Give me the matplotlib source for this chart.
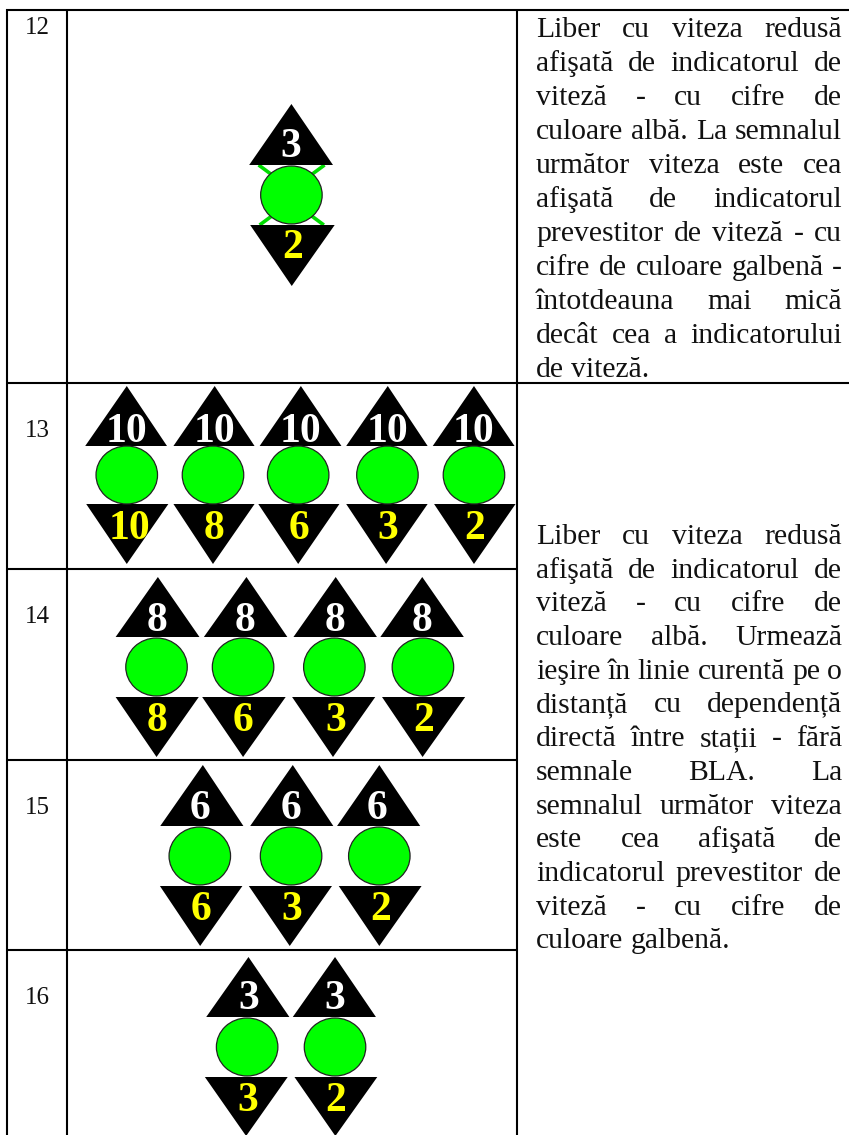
import matplotlib
matplotlib.use("Agg")
import matplotlib.pyplot as plt
from matplotlib.patches import Polygon, Ellipse
from matplotlib.font_manager import FontProperties

W, H = 849, 1135
plt.rcParams['font.family'] = ['Liberation Serif', 'DejaVu Serif']

# ---- content ----
row_labels = ["12", "13", "14", "15", "16"]
top_speeds = [["3"], ["10", "10", "10", "10", "10"], ["8", "8", "8", "8"], ["6", "6", "6"], ["3", "3"]]
bottom_speeds = [["2"], ["10", "8", "6", "3", "2"], ["8", "6", "3", "2"], ["6", "3", "2"], ["3", "2"]]

text_first = ["Liber cu viteza redusă", "afişată de indicatorul de", "viteză - cu cifre de",
              "culoare albă. La semnalul", "următor viteza este cea", "afişată de indicatorul",
              "prevestitor de viteză - cu", "cifre de culoare galbenă -", "întotdeauna mai mică",
              "decât cea a indicatorului", "de viteză."]
text_second = ["Liber cu viteza redusă", "afişată de indicatorul de", "viteză - cu cifre de",
               "culoare albă. Urmează", "ieşire în linie curentă pe o", "distanță cu dependență",
               "directă între stații - fără", "semnale BLA. La", "semnalul următor viteza",
               "este cea afişată de", "indicatorul prevestitor de", "viteză - cu cifre de",
               "culoare galbenă."]

# ---- layout (pixels) ----
S = 2.958
label_y = [26, 429, 615, 806, 996]
top_apex_y = [104, 386, 577, 765, 957]
top_base_y = [165, 446, 637, 826, 1017]
circle_y = [195, 475, 667, 856, 1047]
bot_base_y = [225, 504, 697, 886, 1077]
bot_apex_y = [286, 564, 757, 946, 1136]
top_digit_y = [143, 428, 617, 805, 995]
bot_digit_y = [244, 525, 717, 906, 1097]
top_apex_x = [[862], [375, 635, 890, 1147, 1402], [467, 729, 993, 1249], [600, 866, 1122], [735, 991]]
top_base_x = [[(737, 985)], [(252, 494), (513, 753), (768, 1010), (1024, 1265), (1280, 1522)],
              [(342, 590), (603, 850), (868, 1115), (1125, 1372)],
              [(474, 720), (740, 986), (997, 1243)], [(610, 856), (866, 1112)]]
circle_x = [[862], [375, 630, 882, 1146, 1402], [463, 719, 989, 1251], [591, 861, 1122], [731, 991]]
bot_base_x = [[(740, 990)], [(255, 498), (513, 753), (764, 1004), (1024, 1265), (1284, 1525)],
              [(342, 588), (598, 845), (864, 1110), (1130, 1376)],
              [(473, 717), (736, 982), (1002, 1247)], [(606, 851), (871, 1116)]]
bot_apex_x = [[863], [375, 630, 882, 1142, 1402], [463, 719, 985, 1250], [592, 857, 1122], [728, 992]]
top_digit_x = [[860], [375, 635, 890, 1147, 1402], [465, 725, 992, 1248], [593, 860, 1115], [735, 990]]
bot_digit_x = [[865], [383, 632, 884, 1147, 1405], [465, 720, 992, 1252], [594, 863, 1125], [733, 993]]
green_arms = [((765, 165), (805, 175)), ((960, 165), (920, 175)),
              ((768, 225), (808, 215)), ((958, 225), (918, 215))]

DIGIT_PT = 30
LABEL_PT = 18
BODY_PT = 21.3
digit_drop = 0.338 * DIGIT_PT * 100 / 72
label_drop = 0.338 * LABEL_PT * 100 / 72

fig = plt.figure(figsize=(W / 100, H / 100), dpi=100, facecolor='white')
ax = fig.add_axes([0, 0, 1, 1])
ax.set_xlim(0, W)
ax.set_ylim(H, 0)
ax.axis('off')

# grid
LW = 1.5
for x in (7, 67.5, 517):
    ax.plot([x, x], [9, H], color='black', lw=LW, solid_capstyle='butt')
for y, x1 in ((10, W), (383, W), (569, 517), (760, 517), (950, 517)):
    ax.plot([6, x1], [y, y], color='black', lw=LW, solid_capstyle='butt')

# row numbers
for lab, y in zip(row_labels, label_y):
    ax.text(37, y + label_drop, lab, fontsize=LABEL_PT, ha='center', va='baseline', color='#111111')

# row 12's green arms
for (x0, y0), (x1, y1) in green_arms:
    ax.plot([x0 / S, x1 / S], [y0, y1], color='#00dd00', lw=2.6, solid_capstyle='butt', zorder=2)

# signals
for r in range(len(row_labels)):
    for i in range(len(top_speeds[r])):
        bx0, bx1 = top_base_x[r][i]
        ax.add_patch(Polygon([(bx0 / S, top_base_y[r]), (bx1 / S, top_base_y[r]),
                              (top_apex_x[r][i] / S, top_apex_y[r])],
                             closed=True, fc='black', ec='none', zorder=3))
        bx0, bx1 = bot_base_x[r][i]
        ax.add_patch(Polygon([(bx0 / S, bot_base_y[r]), (bx1 / S, bot_base_y[r]),
                              (bot_apex_x[r][i] / S, bot_apex_y[r])],
                             closed=True, fc='black', ec='none', zorder=3))
        ax.add_patch(Ellipse((circle_x[r][i] / S, circle_y[r]), 61.5, 58, fc='#00ff00',
                             ec='#222222', lw=0.9, zorder=4))
        ax.text(top_digit_x[r][i] / S, top_digit_y[r] + digit_drop, top_speeds[r][i], color='white',
                fontsize=DIGIT_PT, fontweight='bold', ha='center', va='baseline', zorder=5)
        ax.text(bot_digit_x[r][i] / S, bot_digit_y[r] + digit_drop, bottom_speeds[r][i], color='#ffff00',
                fontsize=DIGIT_PT, fontweight='bold', ha='center', va='baseline', zorder=5)

# justified text
fig.canvas.draw()
rend = fig.canvas.get_renderer()
fp = FontProperties(family='Liberation Serif', size=BODY_PT)


def word_width(word):
    t = ax.text(0, 0, word, fontproperties=fp)
    w = t.get_window_extent(rend).width
    t.remove()
    return w


def justified(lines, first_y, step, left=536, right=842):
    space = word_width("a a") - word_width("aa")
    for n, line in enumerate(lines):
        words = line.split()
        widths = [word_width(w) for w in words]
        last = n == len(lines) - 1
        gap = space if last or len(words) == 1 else (right - left - sum(widths)) / (len(words) - 1)
        x = left
        for w, wd in zip(words, widths):
            ax.text(x, first_y + n * step, w, fontproperties=fp, ha='left', va='baseline', color='#111111')
            x += wd + gap


justified(text_first, 37, 34)
justified(text_second, 544, 33.7)

fig.savefig('out.png', dpi=100, facecolor='white')
